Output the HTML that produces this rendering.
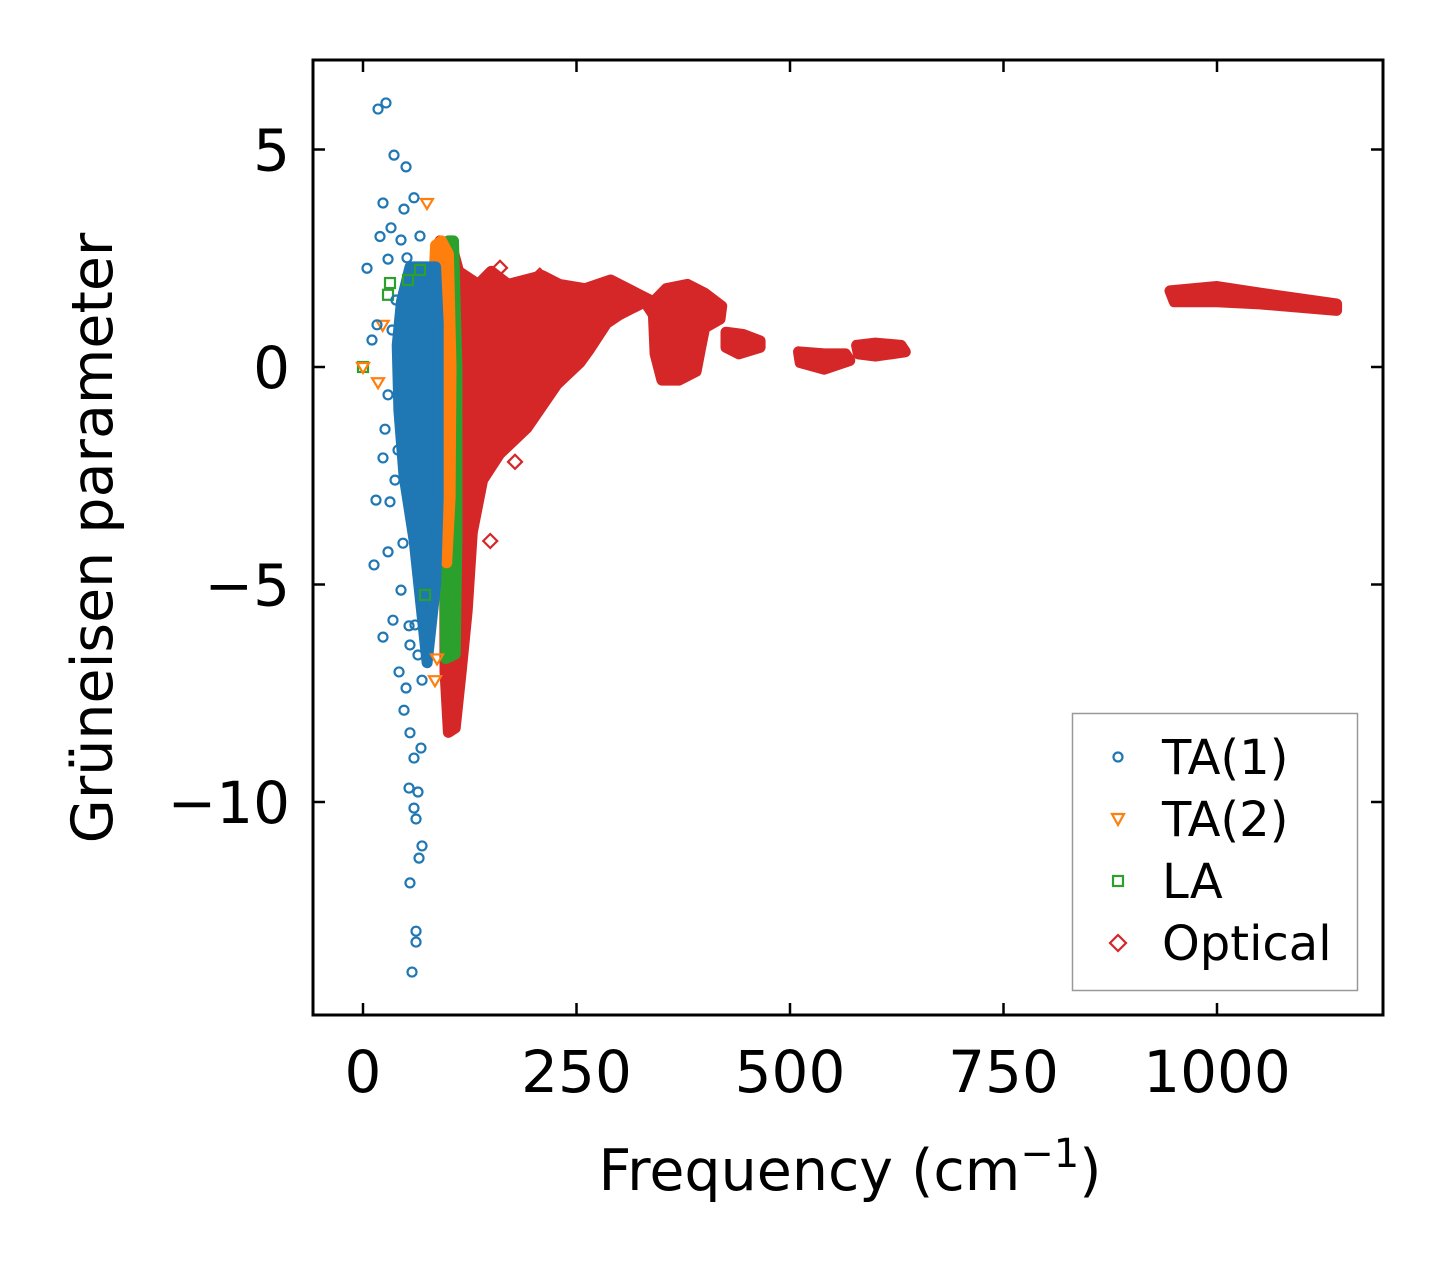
<!DOCTYPE html>
<html><head><meta charset="utf-8"><style>
html,body{margin:0;padding:0;background:#fff;}
svg{display:block;font-family:"DejaVu Sans","Liberation Sans",sans-serif;}
</style></head><body>
<svg id="chart" width="1443" height="1264" viewBox="0 0 1443 1264" xmlns="http://www.w3.org/2000/svg">
<rect width="1443" height="1264" fill="#fff"/>
<g id="marks"></g>
<g id="axes"></g>
<text x="850" y="1190" font-size="57" text-anchor="middle">Frequency (cm<tspan dy="-23" font-size="40">−1</tspan><tspan dy="23">)</tspan></text>
<text transform="translate(112,538) rotate(-90)" font-size="57" text-anchor="middle">Grüneisen parameter</text>
<g>
<rect x="1072.5" y="713.5" width="285" height="277" fill="#fff" stroke="#999" stroke-width="1.5"/>
<circle cx="1118" cy="757" r="4.5" fill="none" stroke="#1f77b4" stroke-width="2.2"/>
<text x="1162" y="774" font-size="48">TA(1)</text>
<path d="M1112,814 L1124,814 L1118,825 Z" fill="none" stroke="#ff7f0e" stroke-width="2.2"/>
<text x="1162" y="836" font-size="48">TA(2)</text>
<rect x="1113" y="876" width="10" height="10" fill="none" stroke="#2ca02c" stroke-width="2.2"/>
<text x="1162" y="898" font-size="48">LA</text>
<path d="M1118,935 L1126,943 L1118,951 L1110,943 Z" fill="none" stroke="#d62728" stroke-width="2.2"/>
<text x="1162" y="960" font-size="48">Optical</text>
</g>
</svg>
<script>
// ---- data ----
const xTicks = [0, 250, 500, 750, 1000];
const yTicks = [5, 0, -5, -10];
const yTickLabels = ["5", "0", "\u22125", "\u221210"];
// dense regions (freq, gamma) envelopes
const ta1Dense = [[55,2.3],[85,2.3],[88,1],[88,-3],[85,-5],[75,-6.8],[68,-5.5],[60,-4],[48,-2.5],[42,-1],[40,0.5],[45,1.5]];
const ta2Dense = [[85,2.8],[92,2.9],[100,2.6],[103,0],[102,-3],[98,-4.5],[90,-4.2],[87,-2],[84,0],[83,2]];
const laDense = [[100,2.9],[106,2.9],[110,0],[110,-4],[108,-6.6],[97,-6.7],[95,-4],[98,0]];
const opticalDense = [[90,2.9],[105,2.7],[112,2.2],[135,1.9],[150,2.2],[170,1.9],[190,2.0],[210,2.1],[230,1.9],[260,1.8],[290,2.0],[320,1.7],[340,1.5],[355,1.8],[380,1.9],[400,1.7],[420,1.4],[418,1.1],[400,0.9],[395,0.4],[390,-0.1],[370,-0.3],[350,-0.3],[342,0.3],[340,1.2],[330,1.5],[300,1.2],[285,1.0],[265,0.4],[254,0.1],[227,-0.4],[192,-1.4],[160,-2.0],[140,-2.6],[128,-3.8],[122,-5.6],[115,-7.0],[108,-8.3],[100,-8.4],[96,-7],[95,0]];
const opticalBlob1 = [[425,0.8],[445,0.75],[465,0.6],[465,0.45],[440,0.3],[425,0.45]];
const opticalBlob2 = [[510,0.35],[540,0.3],[565,0.3],[570,0.15],[540,-0.05],[512,0.1]];
const opticalBlob3 = [[578,0.5],[600,0.55],[630,0.5],[635,0.35],[600,0.25],[580,0.3]];
const opticalBlob4 = [[945,1.75],[1000,1.85],[1050,1.7],[1140,1.45],[1140,1.3],[1050,1.45],[1000,1.5],[950,1.5]];
// scattered points
const ta1Freq = [17.6,26.9,36.3,50.4,23.4,59.7,48.0,19.9,32.8,44.5,66.7,51.5,29.3,4.7,16.4,10.5,29.3,25.8,23.4,15.2,31.6,12.9,29.3,46.8,23.4,35.1,53.9,42.2,50.4,48.0,55.0,59.7,67.9,53.9,64.4,59.7,62.1,69.1,65.6,55.0,62.1,62.1,57.4,44.5,60.9,64.4,69.1,55.0,37.5,41.0,43.3,34.0,38.6];
const ta1Gamma = [5.93,6.07,4.87,4.6,3.77,3.89,3.63,3.0,3.2,2.92,3.01,2.51,2.48,2.27,0.97,0.62,-0.64,-1.43,-2.09,-3.06,-3.1,-4.55,-4.25,-4.05,-6.21,-5.82,-5.95,-7.01,-7.38,-7.89,-8.41,-8.99,-8.76,-9.68,-9.77,-10.14,-10.39,-11.01,-11.29,-11.86,-12.97,-13.22,-13.91,-5.13,-5.93,-6.62,-7.2,-6.39,-2.6,-1.91,-1.22,0.85,1.54];
const ta2Freq = [74.9,17.6,0,23,84.3,86.7];
const ta2Gamma = [3.77,-0.35,0,0.97,-7.2,-6.7];
const laFreq = [0,29.3,31.6,52.7,66.7,72.6];
const laGamma = [0,1.66,1.93,2.0,2.23,-5.24];
const optFreq = [160.4,207,178,149];
const optGamma = [2.28,2.1,-2.18,-4.0];

// ---- axes functions ----
const L=313,R=1383,T=60,B=1015;
const xs = f => 363 + f*0.854;
const ys = g => 367 - g*43.5;
const NS="http://www.w3.org/2000/svg";
const marks=document.getElementById('marks');
const axes=document.getElementById('axes');
function mk(tag, attrs, parent){const e=document.createElementNS(NS,tag);for(const k in attrs)e.setAttribute(k,attrs[k]);parent.appendChild(e);return e;}
function poly(pts,color,name){
  const e=mk('polygon',{points:pts.map(p=>xs(p[0]).toFixed(1)+','+ys(p[1]).toFixed(1)).join(' '),fill:color,stroke:color,'stroke-width':11,'stroke-linejoin':'round'},marks);
  
  
}
poly(opticalDense,'#d62728','optical-dense-region');
poly(opticalBlob1,'#d62728','optical-blob-450');
poly(opticalBlob2,'#d62728','optical-blob-540');
poly(opticalBlob3,'#d62728','optical-blob-605');
poly(opticalBlob4,'#d62728','optical-blob-1040');
poly(laDense,'#2ca02c','la-dense-region');
poly(ta2Dense,'#ff7f0e','ta2-dense-region');
poly(ta1Dense,'#1f77b4','ta1-dense-region');

optFreq.forEach((f,i)=>{const x=xs(f),y=ys(optGamma[i]);
  const e=mk('path',{d:`M${x},${y-7}L${x+7},${y}L${x},${y+7}L${x-7},${y}Z`,fill:'none',stroke:'#d62728','stroke-width':2.2},marks);
  
  });
laFreq.forEach((f,i)=>{const x=xs(f),y=ys(laGamma[i]);
  const e=mk('rect',{x:x-5,y:y-5,width:10,height:10,fill:'none',stroke:'#2ca02c','stroke-width':2.2},marks);
  
  });
ta2Freq.forEach((f,i)=>{const x=xs(f),y=ys(ta2Gamma[i]);
  const e=mk('path',{d:`M${x-6},${y-4}L${x+6},${y-4}L${x},${y+6}Z`,fill:'none',stroke:'#ff7f0e','stroke-width':2.2},marks);
  
  });
ta1Freq.forEach((f,i)=>{
  const e=mk('circle',{cx:xs(f),cy:ys(ta1Gamma[i]),r:4.5,fill:'none',stroke:'#1f77b4','stroke-width':2.2},marks);
  
  });

// frame & ticks
const frame=mk('rect',{x:L,y:T,width:R-L,height:B-T,fill:'none',stroke:'#000','stroke-width':3},axes);


xTicks.forEach(v=>{const x=xs(v);
  mk('line',{x1:x,x2:x,y1:B,y2:B-12,stroke:'#000','stroke-width':2.5},axes);
  mk('line',{x1:x,x2:x,y1:T,y2:T+12,stroke:'#000','stroke-width':2.5},axes);
  const t=mk('text',{x:x,y:1092,'font-size':58,'text-anchor':'middle'},axes);t.textContent=String(v);
  
  });
yTicks.forEach((v,i)=>{const y=ys(v);
  mk('line',{x1:L,x2:L+12,y1:y,y2:y,stroke:'#000','stroke-width':2.5},axes);
  mk('line',{x1:R,x2:R-12,y1:y,y2:y,stroke:'#000','stroke-width':2.5},axes);
  const t=mk('text',{x:290,y:y+21,'font-size':58,'text-anchor':'end'},axes);t.textContent=yTickLabels[i];
  
  });
</script>
</body></html>
